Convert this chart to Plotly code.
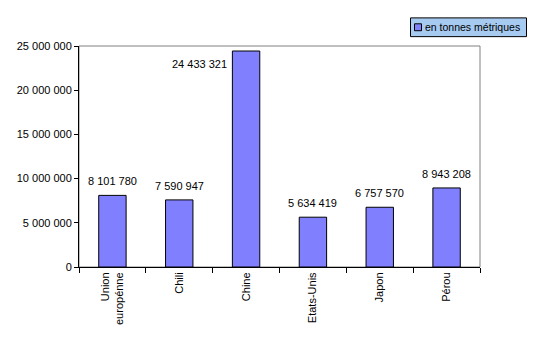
import plotly.graph_objects as go

# Production by country, metric tonnes
categories = ["Union<br>europénne", "Chili", "Chine", "Etats-Unis", "Japon", "Pérou"]
values = [8101780, 7590947, 24433321, 5634419, 6757570, 8943208]
series_name = "en tonnes métriques"
y_ticks = [0, 5000000, 10000000, 15000000, 20000000, 25000000]

W, H = 553, 337
L, R, T, B = 79, 480, 46, 270  # plot area edges in pixels

BAR_COLOR = "#8080FF"
FONT = dict(family="Liberation Sans, Arial, sans-serif", size=11, color="black")
LEGEND_FONT = dict(FONT, size=10.5)


def px_x(px):
    return (px - L) / (R - L)


def px_y(py):
    return (B - py) / (B - T)


def fmt(v):
    return f"{v:,}".replace(",", " ")


fig = go.Figure()
fig.add_trace(go.Bar(
    x=categories,
    y=values,
    name=series_name,
    width=0.41,
    marker=dict(color=BAR_COLOR, line=dict(color="black", width=1)),
    showlegend=False,
    hoverinfo="x+y",
))

# Value labels; the tallest bar gets its label beside it, to the left
annotations = []
peak = max(values)
for cat, v in zip(categories, values):
    if v == peak:
        annotations.append(dict(x=cat, y=v, text=fmt(v), showarrow=False,
                                xanchor="right", yanchor="middle",
                                xshift=-17, yshift=-13, font=FONT))
    else:
        annotations.append(dict(x=cat, y=v, text=fmt(v), showarrow=False,
                                xanchor="center", yanchor="middle",
                                yshift=14, font=FONT))

# Legend box drawn by hand
annotations.append(dict(xref="paper", yref="paper", x=px_x(422.5), y=px_y(26.5),
                        text=series_name, showarrow=False, xanchor="left",
                        yanchor="middle", font=LEGEND_FONT))

shapes = [
    # plot-area frame (gray)
    dict(type="rect", xref="paper", yref="paper", x0=0, x1=1, y0=0, y1=1,
         line=dict(color="#808080", width=1), layer="below"),
    # legend box
    dict(type="rect", xref="paper", yref="paper",
         x0=px_x(410.5), x1=px_x(526.5), y0=px_y(36.5), y1=px_y(17.5),
         fillcolor="#A6CAF0", line=dict(color="black", width=1)),
    # legend key
    dict(type="rect", xref="paper", yref="paper",
         x0=px_x(414.5), x1=px_x(421.5), y0=px_y(30.5), y1=px_y(23.5),
         fillcolor=BAR_COLOR, line=dict(color="black", width=1)),
]

fig.update_layout(
    width=W, height=H,
    margin=dict(l=L, r=W - R, t=T, b=H - B, pad=0),
    paper_bgcolor="white", plot_bgcolor="white",
    font=FONT,
    separators=", ",
    bargap=0.59,
    annotations=annotations,
    shapes=shapes,
    xaxis=dict(
        type="category",
        tickangle=-90,
        showline=True, linecolor="black", linewidth=1,
        ticks="outside", ticklen=5, tickcolor="black", tickwidth=1,
        tickson="boundaries",
        showgrid=False, zeroline=False,
        tickfont=FONT,
    ),
    yaxis=dict(
        range=[0, 25000000],
        tickvals=y_ticks,
        tickformat=",d",
        showline=True, linecolor="black", linewidth=1,
        ticks="outside", ticklen=4, tickcolor="black", tickwidth=1,
        showgrid=False, zeroline=False,
        tickfont=FONT,
    ),
)

fig.write_html("out.html")
